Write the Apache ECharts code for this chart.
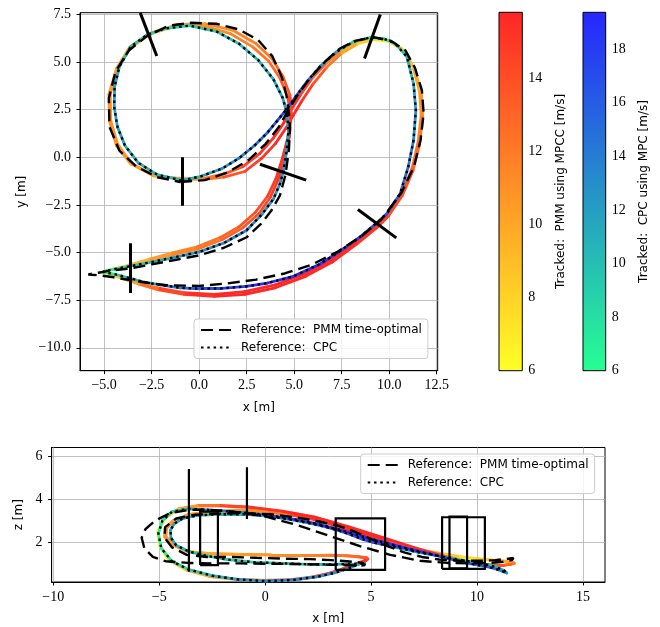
<!DOCTYPE html>
<html><head><meta charset="utf-8">
<script src="https://cdn.jsdelivr.net/npm/echarts@6/dist/echarts.min.js"></script>
<style>html,body{margin:0;padding:0;background:#fff}#c{width:660px;height:627px}</style>
</head><body><div id="c"></div>
<script>
// ---------------- data ----------------
// CPC trajectory (reference and tracked, they overlap) : x, y, z [m], tracked speed [m/s]
const cpcX = [-0.91,0.1,1.2,2.1,2.9,3.6,4.1,4.55,5.1,5.7,6.4,7.25,8.1,9.0,9.7,10.3,10.93,11.28,11.4,11.28,11.0,10.58,9.88,9.35,8.47,7.3,6.37,4.96,3.6,2.47,1.2,0.0,-1.0,-2.05,-2.9,-3.63,-4.4,-4.85,-5.04,-4.9,-4.4,-3.63,-2.5,-1.3,0.0,1.3,2.5,3.3,3.9,4.25,4.44,4.6,4.7,4.62,4.4,3.9,3.1,2.1,0.9,-0.5,-1.8,-2.75,-3.6,-4.2,-4.45,-4.47,-4.3,-3.9,-3.2,-2.2,-0.91];
const cpcY = [-1.22,-1.0,-0.6,-0.05,0.6,1.3,1.9,2.45,3.2,4.0,4.8,5.55,6.05,6.28,6.22,5.98,5.26,3.86,2.46,0.89,-0.51,-1.9,-2.95,-3.44,-4.18,-5.0,-5.6,-6.25,-6.6,-6.78,-6.88,-6.9,-6.85,-6.7,-6.55,-6.35,-6.15,-6.06,-6.02,-5.96,-5.86,-5.72,-5.5,-5.25,-4.97,-4.5,-3.83,-3.0,-2.2,-1.4,-0.7,0.3,1.4,2.3,3.1,4.1,5.1,5.95,6.6,6.9,6.75,6.42,5.8,4.74,3.69,2.64,1.59,0.6,-0.3,-0.92,-1.22];
const cpcZ = [3.3,3.22,3.05,2.88,2.7,2.5,2.32,2.15,1.98,1.85,1.7,1.52,1.36,1.2,1.08,0.98,0.82,0.66,0.55,0.6,0.7,0.82,0.95,1.05,1.28,1.55,1.78,2.15,2.55,2.85,3.1,3.27,3.38,3.46,3.52,3.55,3.42,3.0,2.4,1.7,1.1,0.72,0.42,0.25,0.17,0.22,0.38,0.56,0.75,0.9,0.97,1.0,1.0,1.0,0.98,0.97,0.95,0.95,1.0,1.05,1.18,1.35,1.55,1.85,2.2,2.55,2.85,3.1,3.25,3.3,3.3];
const cpcSpeed = [10.5,11.5,12.5,13.5,14.5,15.5,16.5,17.5,17.5,16,14,11.5,9,7.5,7.5,8.5,10,11.5,12.5,13.5,14.5,15.5,16.5,17,17.5,18.5,19,19,19,18.5,17.5,16.5,15,13.5,12,11,8.5,7,6.5,7,8,9,10.5,12,13,13.5,13.5,13,12.5,12.5,12,12,12,12,11.5,11,10.5,10,9.5,9,9,9,10,11,12,12,12,11.5,11,10.5,10.5];

// PMM time-optimal reference : x, y, z [m]
const pmmRefX = [-1.0,0.3,1.5,2.6,3.5,4.2,4.65,5.2,5.8,6.6,7.4,8.2,9.17,10.1,10.85,11.35,11.72,11.81,11.65,11.3,10.65,9.6,8.6,7.3,5.9,4.5,3.0,1.5,0.0,-1.7,-3.0,-3.63,-4.5,-5.2,-5.65,-5.83,-5.7,-5.3,-4.7,-3.63,-2.5,-1.2,0.05,1.3,2.5,3.25,3.8,4.25,4.55,4.72,4.78,4.72,4.6,4.35,3.85,3.1,2.1,0.9,-0.4,-1.6,-2.75,-3.7,-4.4,-4.75,-4.72,-4.2,-3.3,-2.2,-1.0];
const pmmRefY = [-1.3,-1.2,-0.8,-0.15,0.7,1.6,2.4,3.3,4.1,5.0,5.7,6.1,6.3,6.1,5.6,4.7,3.5,2.3,0.9,-0.5,-1.85,-3.25,-4.1,-4.95,-5.65,-6.1,-6.42,-6.62,-6.75,-6.72,-6.55,-6.45,-6.3,-6.2,-6.17,-6.15,-6.12,-6.06,-5.95,-5.84,-5.62,-5.38,-5.14,-4.75,-4.2,-3.5,-2.8,-2.0,-0.9,0.4,1.5,2.3,3.2,4.2,5.3,6.15,6.7,7.0,7.05,6.9,6.35,5.6,4.5,3.1,1.6,0.35,-0.5,-1.05,-1.3];
const pmmRefZ = [3.35,3.3,3.15,2.95,2.75,2.5,2.3,2.05,1.8,1.5,1.3,1.18,1.12,1.12,1.15,1.2,1.25,1.22,1.15,1.08,1.02,1.0,1.02,1.12,1.4,1.8,2.3,2.8,3.2,3.45,3.52,3.5,3.35,3.0,2.6,2.2,1.7,1.3,1.1,1.02,1.0,1.0,0.98,0.97,0.95,0.93,0.92,0.9,0.9,0.92,0.95,1.0,1.02,1.05,1.1,1.15,1.2,1.22,1.26,1.3,1.3,1.4,1.75,2.2,2.7,3.1,3.28,3.33,3.35];

// PMM tracked with MPCC, lap A : x, y, z [m], speed [m/s]
const pmmAX = [-0.9,0.2,1.3,2.3,3.2,3.9,4.45,4.85,5.35,5.95,6.7,7.5,8.35,9.2,9.95,10.65,11.25,11.6,11.68,11.52,11.2,10.65,9.9,9.3,8.3,7.0,5.6,4.0,2.4,0.8,-0.8,-2.2,-3.2,-4.1,-4.7,-5.05,-4.95,-4.5,-3.7,-2.6,-1.4,-0.1,1.2,2.3,3.15,3.75,4.15,4.5,4.75,4.82,4.65,4.25,3.65,2.8,1.6,0.2,-1.2,-2.6,-3.6,-4.3,-4.68,-4.65,-4.3,-3.6,-2.4,-0.9];
const pmmAY = [-1.15,-1.12,-0.88,-0.5,0.2,1.0,1.8,2.5,3.3,4.15,4.95,5.6,6.05,6.25,6.12,5.7,4.75,3.4,2.2,0.8,-0.6,-1.95,-3.05,-3.65,-4.45,-5.35,-6.1,-6.7,-7.05,-7.2,-7.1,-6.85,-6.6,-6.3,-6.12,-6.05,-6.0,-5.88,-5.7,-5.42,-5.12,-4.82,-4.33,-3.7,-2.95,-2.1,-1.2,-0.1,1.1,2.2,3.2,4.15,5.05,5.8,6.5,6.9,6.9,6.45,5.75,4.65,3.3,1.9,0.7,-0.3,-0.95,-1.15];
const pmmAZ = [3.45,3.38,3.25,3.05,2.8,2.55,2.35,2.2,2.05,1.9,1.72,1.55,1.42,1.3,1.22,1.15,1.1,1.05,1.0,0.95,0.9,0.92,1.0,1.1,1.35,1.7,2.15,2.65,3.1,3.42,3.62,3.7,3.68,3.55,3.15,2.5,1.8,1.15,0.7,0.4,0.26,0.2,0.22,0.35,0.55,0.75,0.9,1.02,1.12,1.2,1.27,1.32,1.36,1.38,1.4,1.4,1.42,1.45,1.55,1.85,2.25,2.65,3.0,3.28,3.42,3.45];
const pmmASpeed = [10.5,11.5,13,14.5,15,15.5,15.5,15.5,15,14,12.5,11,9,7.5,7.5,8.5,9.5,10.5,11,12,13,14,14.5,15,15.5,15.7,15.8,15.8,15.8,15.6,15,13.5,11.5,9.5,7.5,6.3,6.5,7.5,9,10,11,12,12.5,13.5,14,14.5,15,15.5,15.5,15,14,13,12.5,12,11.5,11,10.5,10,10,10.5,11,11,11,10.5,10.5,10.5];

// PMM tracked with MPCC, lap B
const pmmBX = [-0.9,0.2,1.3,2.4,3.3,4.0,4.55,4.95,5.4,6.0,6.7,7.5,8.35,9.2,10.0,10.75,11.35,11.7,11.76,11.6,11.25,10.7,9.95,9.35,8.3,7.0,5.6,4.0,2.4,0.8,-0.8,-2.2,-3.2,-4.1,-4.7,-5.08,-4.98,-4.55,-3.7,-2.6,-1.4,-0.1,1.1,2.1,2.95,3.6,4.05,4.4,4.68,4.85,4.78,4.4,3.85,3.0,1.8,0.3,-1.2,-2.6,-3.65,-4.35,-4.75,-4.72,-4.35,-3.6,-2.4,-0.9];
const pmmBY = [-1.12,-1.18,-1.05,-0.75,-0.05,0.7,1.5,2.2,2.95,3.85,4.7,5.45,5.95,6.18,6.08,5.6,4.6,3.3,2.1,0.7,-0.7,-2.0,-3.1,-3.7,-4.55,-5.5,-6.25,-6.85,-7.2,-7.3,-7.2,-6.95,-6.65,-6.35,-6.15,-6.06,-6.0,-5.88,-5.66,-5.35,-5.02,-4.7,-4.22,-3.65,-2.9,-2.05,-1.1,0.0,1.1,2.3,3.25,4.25,5.15,5.95,6.65,7.0,6.95,6.5,5.78,4.65,3.3,1.9,0.6,-0.35,-0.98,-1.12];
const pmmBZ = [3.5,3.45,3.35,3.15,2.9,2.65,2.42,2.25,2.1,1.95,1.78,1.6,1.45,1.32,1.22,1.15,1.1,1.05,1.0,0.95,0.9,0.92,1.0,1.12,1.38,1.75,2.2,2.7,3.15,3.45,3.65,3.72,3.7,3.55,3.15,2.5,1.8,1.15,0.68,0.38,0.25,0.2,0.22,0.34,0.52,0.72,0.9,1.02,1.12,1.2,1.27,1.32,1.36,1.38,1.4,1.4,1.42,1.45,1.55,1.85,2.25,2.65,3.0,3.3,3.45,3.5];
const pmmBSpeed = [10.5,11.5,13,14.5,15,15.5,15.7,15.7,15.5,14.5,13,11,9,7.5,7.5,8.5,9.5,10.5,11.5,12.5,13.5,14,14.5,15,15.5,15.8,15.8,15.8,15.8,15.7,15.2,13.5,11.5,9.5,7.5,6.3,6.5,7.5,9,10,11,12,12.5,13.5,14,14.5,15,15.5,15.5,15,14,13,12.5,12,11.5,11,10.5,10,10,10.5,11,11,11,10.5,10.5,10.5];

// gates, top view segments [x1, y1, x2, y2]
const gatesTop = [[-3.63,-4.51,-3.63,-7.12],[-3.1,7.57,-2.23,5.31],[-0.91,0.0,-0.91,-2.55],[3.2,-0.37,5.63,-1.2],[9.53,7.48,8.7,5.18],[8.35,-2.74,10.37,-4.23]];
// gates, side view vertical lines [x, z1, z2]
const gatesSideLines = [[-3.6,0.61,5.42],[-0.86,3.08,5.5]];
// gates, side view rectangles [x1, x2, z1, z2]
const gatesSideRects = [[-3.07,-2.23,0.92,3.42],[3.33,5.66,0.69,3.11],[8.35,10.37,0.74,3.16],[8.7,9.53,0.77,3.19]];

// axis ticks
const xTicksTop = [-5,-2.5,0,2.5,5,7.5,10,12.5];
const yTicksTop = [-10,-7.5,-5,-2.5,0,2.5,5,7.5];
const xTicksSide = [-10,-5,0,5,10,15];
const zTicksSide = [2,4,6];
const pmmBarTicks = [6,8,10,12,14];
const cpcBarTicks = [6,8,10,12,14,16,18];
const pmmRange = [6, 15.79];
const cpcRange = [6, 19.37];

const NAME_PMM = 'Reference:  PMM time-optimal';
const NAME_CPC = 'Reference:  CPC';

// ---------------- helpers ----------------
const ALPHA = 0.85;
const mix = c => Math.round(255 * (1 - ALPHA) + c * ALPHA);
const clamp = t => Math.max(0, Math.min(1, t));
function autumnR(v) { const t = clamp((v - pmmRange[0]) / (pmmRange[1] - pmmRange[0])); return `rgb(${mix(255)},${mix(255 * (1 - t))},${mix(0)})`; }
function winterR(v) { const t = clamp((v - cpcRange[0]) / (cpcRange[1] - cpcRange[0])); return `rgb(${mix(0)},${mix(255 * (1 - t))},${mix(255 * (0.5 + 0.5 * t))})`; }
const pts = (A, B) => A.map((a, i) => [a, B[i]]);
function segs(A, B, V, cmap) {
  const out = [];
  for (let i = 0; i < A.length - 1; i++) out.push({ coords: [[A[i], B[i]], [A[i + 1], B[i + 1]]], lineStyle: { color: cmap((V[i] + V[i + 1]) / 2) } });
  return out;
}
const minus = s => String(s).replace('-', '\u2212');
const fmt1 = v => minus(v.toFixed(1));
const fmt0 = v => minus(String(v));

const serif = 'Liberation Serif';
const sans = 'DejaVu Sans';
const tickLabel = { fontFamily: serif, fontSize: 14, color: '#000' };
const nameStyle = { fontFamily: sans, fontSize: 12, color: '#000' };
const splitLine = { show: true, lineStyle: { color: '#b0b0b0', width: 0.8 } };
const DASH = [12, 6];
const DOT = [2.5, 3.8];

function trackedSeries(A, B, V, cmap, gi) {
  return { type: 'lines', coordinateSystem: 'cartesian2d', xAxisIndex: gi, yAxisIndex: gi, polyline: false, silent: true, z: 2,
    lineStyle: { width: 2.8, opacity: 1, cap: 'round' }, data: segs(A, B, V, cmap) };
}
function refSeries(name, A, B, dash, gi) {
  return { type: 'line', name, xAxisIndex: gi, yAxisIndex: gi, data: pts(A, B), showSymbol: false, symbol: 'none', silent: true, z: 3,
    lineStyle: { color: '#000', width: 2.4, type: dash, cap: 'butt' }, itemStyle: { color: '#000' } };
}

const series = [];
// top view (x-y)
series.push(trackedSeries(pmmAX, pmmAY, pmmASpeed, autumnR, 0));
series.push(trackedSeries(pmmBX, pmmBY, pmmBSpeed, autumnR, 0));
series.push(trackedSeries(cpcX, cpcY, cpcSpeed, winterR, 0));
series.push(refSeries(NAME_PMM, pmmRefX, pmmRefY, DASH, 0));
series.push(refSeries(NAME_CPC, cpcX, cpcY, DOT, 0));
series.push({ type: 'lines', coordinateSystem: 'cartesian2d', xAxisIndex: 0, yAxisIndex: 0, silent: true, z: 5,
  lineStyle: { color: '#000', width: 3, opacity: 1 },
  data: gatesTop.map(g => ({ coords: [[g[0], g[1]], [g[2], g[3]]] })) });
// side view (x-z)
series.push(trackedSeries(pmmAX, pmmAZ, pmmASpeed, autumnR, 1));
series.push(trackedSeries(pmmBX, pmmBZ, pmmBSpeed, autumnR, 1));
series.push(trackedSeries(cpcX, cpcZ, cpcSpeed, winterR, 1));
series.push(refSeries(NAME_PMM, pmmRefX, pmmRefZ, DASH, 1));
series.push(refSeries(NAME_CPC, cpcX, cpcZ, DOT, 1));
series.push({ type: 'lines', coordinateSystem: 'cartesian2d', xAxisIndex: 1, yAxisIndex: 1, silent: true, z: 5, polyline: true,
  lineStyle: { color: '#000', width: 2.2, opacity: 1 },
  data: gatesSideLines.map(g => ({ coords: [[g[0], g[1]], [g[0], g[2]]] }))
    .concat(gatesSideRects.map(r => ({ coords: [[r[0], r[2]], [r[1], r[2]], [r[1], r[3]], [r[0], r[3]], [r[0], r[2]]] }))) });
// colorbars
function barSeries(gi, range, cmap) {
  return { type: 'custom', xAxisIndex: gi, yAxisIndex: gi, silent: true, data: [[0, range[0], range[1]]],
    encode: { x: 0, y: [1, 2] },
    renderItem: (p, api) => {
      const a = api.coord([0, api.value(2)]);
      const b = api.coord([1, api.value(1)]);
      return { type: 'rect', shape: { x: a[0], y: a[1], width: b[0] - a[0], height: b[1] - a[1] },
        style: { fill: new echarts.graphic.LinearGradient(0, 0, 0, 1, [{ offset: 0, color: cmap(range[1]) }, { offset: 1, color: cmap(range[0]) }]) } };
    } };
}
series.push(barSeries(2, pmmRange, autumnR));
series.push(barSeries(3, cpcRange, winterR));

function valAxis(gi, min, max, ticks, fmt, name, gap, margin, extra) {
  return Object.assign({ type: 'value', gridIndex: gi, min, max, name, nameLocation: 'middle', nameGap: gap, nameTextStyle: nameStyle,
    axisLine: { show: true, onZero: false, lineStyle: { color: '#000', width: 1 } },
    axisTick: { show: true, length: 3.5, customValues: ticks, lineStyle: { color: '#000', width: 1 } },
    axisLabel: { customValues: ticks, formatter: fmt, margin, ...tickLabel },
    splitLine }, extra || {});
}
const legendBase = { data: [NAME_PMM, NAME_CPC], orient: 'vertical', padding: [5, 6, 5, 6], itemGap: 5.5, itemWidth: 30, itemHeight: 14,
  itemStyle: { opacity: 0 },
  textStyle: { fontFamily: sans, fontSize: 12, color: '#000', padding: [0, 0, 0, 5] },
  backgroundColor: 'rgba(255,255,255,0.8)', borderColor: '#cccccc', borderWidth: 1, borderRadius: 3, selectedMode: false };

const option = {
  animation: false,
  backgroundColor: '#fff',
  grid: [
    { left: 80, top: 12.7, width: 357.7, height: 358, show: true, borderColor: '#000', borderWidth: 1, backgroundColor: 'transparent' },
    { left: 51.6, top: 447.5, width: 553.4, height: 134.5, show: true, borderColor: '#000', borderWidth: 1, backgroundColor: 'transparent' },
    { left: 499, top: 12.3, width: 23.3, height: 358.4, show: true, borderColor: '#000', borderWidth: 1, z: 5 },
    { left: 583, top: 12.3, width: 22.7, height: 358.4, show: true, borderColor: '#000', borderWidth: 1, z: 5 }
  ],
  xAxis: [
    valAxis(0, -6.27, 12.55, xTicksTop, fmt1, 'x [m]', 31, 8),
    valAxis(1, -10.08, 16.04, xTicksSide, fmt0, 'x [m]', 31, 8),
    { type: 'value', gridIndex: 2, min: 0, max: 1, show: false },
    { type: 'value', gridIndex: 3, min: 0, max: 1, show: false }
  ],
  yAxis: [
    valAxis(0, -11.2, 7.58, yTicksTop, fmt1, 'y [m]', 50, 9),
    valAxis(1, 0.126, 6.43, zTicksSide, fmt0, 'z [m]', 22, 9),
    valAxis(2, pmmRange[0], pmmRange[1], pmmBarTicks, fmt0, 'Tracked:  PMM using MPCC [m/s]', 33, 6, { position: 'right', splitLine: { show: false }, axisLine: { show: false } }),
    valAxis(3, cpcRange[0], cpcRange[1], cpcBarTicks, fmt0, 'Tracked:  CPC using MPC [m/s]', 32, 6, { position: 'right', splitLine: { show: false }, axisLine: { show: false } })
  ],
  legend: [
    Object.assign({}, legendBase, { left: 194, top: 319 }),
    Object.assign({}, legendBase, { left: 360.7, top: 454 })
  ],
  series
};
const chart = echarts.init(document.getElementById('c'), null, { renderer: 'canvas' });
chart.setOption(option);
</script></body></html>
